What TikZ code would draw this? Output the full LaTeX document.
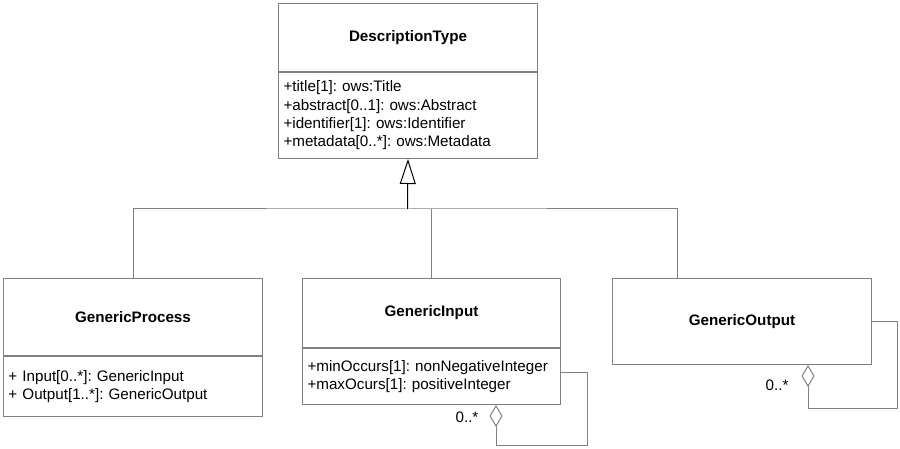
\documentclass[tikz,border=0pt]{standalone}
\usepackage{fontspec}
\setmainfont{Liberation Sans}
\usetikzlibrary{arrows.meta, positioning, calc}
\definecolor{umlgray}{RGB}{128,128,128}
\frenchspacing

\begin{document}
\begin{tikzpicture}[x=1pt, y=-1pt, line width=1pt,
  font=\fontsize{15.2}{18.3}\selectfont,
  classname/.style={draw=umlgray, anchor=north west, minimum width=259pt,
    inner sep=0pt, font=\fontsize{15.2}{18.3}\selectfont\bfseries},
  classattr/.style={draw=umlgray, text width=249pt, align=left,
    inner xsep=5pt, inner ysep=0pt},
  genline/.style={draw=umlgray},
  aggline/.style={draw=umlgray, -{Diamond[open, length=22pt, width=13pt]}},
  mult/.style={inner sep=0pt}]

  \useasboundingbox (0,0) rectangle (900,449);

  % Top class
  \node[classname, minimum height=68pt] (dt) at (278,3) {DescriptionType};
  \node[classattr, minimum height=86pt, below=0pt of dt] (dta)
    {+title[1]: ows:Title\\+abstract[0..1]: ows:Abstract\\+identifier[1]: ows:Identifier\\+metadata[0..*]: ows:Metadata};

  % Sub classes
  \node[classname, minimum height=77pt] (gp) at (3,278) {GenericProcess};
  \node[classattr, minimum height=60pt, below=0pt of gp] (gpa)
    {+ Input[0..*]: GenericInput\\+ Output[1..*]: GenericOutput};

  \node[classname, minimum height=69pt, minimum width=258pt] (gi) at (302,278) {GenericInput};
  \node[classattr, minimum height=56pt, text width=248pt, below=0pt of gi] (gia)
    {+minOccurs[1]: nonNegativeInteger\\+maxOcurs[1]: positiveInteger};

  \node[classname, minimum height=86pt] (go) at (612,278) {GenericOutput};

  % Generalisation
  \coordinate (hub) at (407.5,209);
  \coordinate (gotop) at ([xshift=65pt]go.north west);
  \draw[genline] (gp.north) |- (hub) -| (gotop);
  \draw[genline] (hub -| gi.north) -- (gi.north);
  \draw[-{Triangle[open, length=25pt, width=16pt]}] (hub) -- (dta.south);

  % Aggregation (self)
  \draw[aggline] (gia.east |- 0,372) -| ([xshift=26pt, yshift=-40pt]gia.south east)
    -| ([xshift=-65pt]gia.south east);
  \node[mult] (gimult) at (467,417) {0..*};

  \draw[aggline] (go.east) -| ([xshift=25pt, yshift=-43pt]go.south east)
    -| ([xshift=-64pt]go.south east);
  \node[mult] (gomult) at (777,385) {0..*};

\end{tikzpicture}
\end{document}
